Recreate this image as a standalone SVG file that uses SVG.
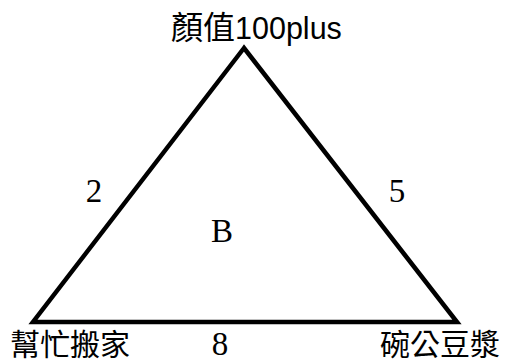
<svg xmlns="http://www.w3.org/2000/svg" width="510" height="363" viewBox="0 0 510 363">
<style>
.edge{fill:none;stroke:#000;stroke-width:4.5;stroke-linejoin:miter}
.cjk{font-family:"Noto Sans CJK TC","Liberation Sans",sans-serif;fill:#000}
.lat{font-family:"Liberation Sans",sans-serif;fill:#000}
.num{font-family:"Liberation Serif",serif;font-size:33px;fill:#000;text-anchor:middle}
</style>
<rect width="510" height="363" fill="#fff"/>
<g id="connectors">
<polygon class="edge" points="244,48 33,322 457,322"/>
</g>
<g id="node-top">
<text x="171" y="39"><tspan class="cjk" font-size="32">顏值</tspan><tspan class="lat" font-size="30.5">100plus</tspan></text>
</g>
<g id="node-left">
<text class="cjk" x="10" y="355" font-size="30">幫忙搬家</text>
</g>
<g id="node-right">
<text class="cjk" x="380" y="355" font-size="30">碗公豆漿</text>
</g>
<g id="labels">
<text class="num" x="94" y="202">2</text>
<text class="num" x="397" y="202">5</text>
<text class="num" x="222" y="242">B</text>
<text class="num" x="220" y="355">8</text>
</g>
</svg>
